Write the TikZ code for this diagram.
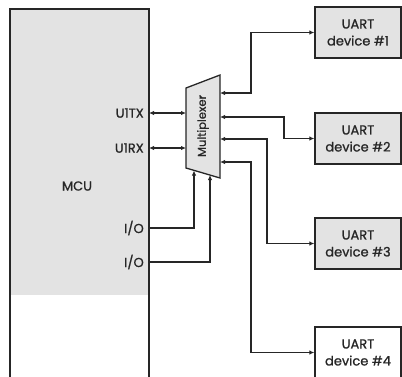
\documentclass[tikz,border=0pt]{standalone}
\usepackage{fontspec}
\setmainfont{Poppins}
\usetikzlibrary{arrows.meta}
\begin{document}
\begin{tikzpicture}[x=1pt,y=-1pt,
  wire/.style={line width=1.2pt, draw=black!85},
  dbl/.style={wire,{Latex[length=5pt,width=4.5pt]}-{Latex[length=5pt,width=4.5pt]}},
  one/.style={wire,-{Latex[length=5pt,width=4.5pt]}},
  box/.style={draw=black!85, line width=1.3pt},
  txt/.style={font=\fontsize{13}{17}\selectfont\addfontfeature{FakeBold=1}, text=black!85},
  dev/.style={box, fill=#1, minimum width=86pt, minimum height=51pt, inner sep=0pt, align=center, txt},
  pin/.style={anchor=east, inner sep=0pt, txt}]
\useasboundingbox (0,0) rectangle (402,376);
\clip (0,0) rectangle (402,376);
% MCU
\fill[gray!22] (11,10) rectangle (149,295);
\draw[box] (10,380) -- (10,9) -- (149,9) -- (149,380);
\node[txt] (mcu) at (77,186) {MCU};
\node[pin] (u1tx) at (144,113) {U1TX};
\node[pin] (u1rx) at (144,148) {U1RX};
\node[pin] (io1) at (144,228) {I/O};
\node[pin] (io2) at (144,262) {I/O};
\coordinate (p1) at (149,113);
\coordinate (p2) at (149,148);
\coordinate (p3) at (149,228);
\coordinate (p4) at (149,262);
% Multiplexer
\draw[box, fill=gray!22] (186,88) -- (220,75) -- (220,178) -- (186,168) -- cycle;
\node[txt, rotate=90, font=\fontsize{11.5}{12}\selectfont\addfontfeature{FakeBold=1}] (mux) at (203,126) {Multiplexer};
\coordinate (mi1) at (186,113);
\coordinate (mi2) at (186,148);
\coordinate (ms1) at (194,170.5);
\coordinate (ms2) at (210,175);
\coordinate (mo1) at (220,93);
\coordinate (mo2) at (220,117);
\coordinate (mo3) at (220,139);
\coordinate (mo4) at (220,162);
% devices
\node[dev=gray!22] (d1) at (358,32.5) {UART\\device \#1};
\node[dev=gray!22] (d2) at (358,138.5) {UART\\device \#2};
\node[dev=gray!22] (d3) at (358,243.5) {UART\\device \#3};
\node[dev=white] (d4) at (358,352.5) {UART\\device \#4};
% connectors
\draw[dbl] (p1) -- (mi1);
\draw[dbl] (p2) -- (mi2);
\draw[one] (p3) -| (ms1);
\draw[one] (p4) -| (ms2);
\draw[dbl] (mo1) -- (251,93) |- (d1.west);
\draw[dbl] (mo2) -- (284,117) |- (d2.west);
\draw[dbl] (mo3) -- (267,139) |- (d3.west);
\draw[dbl] (mo4) -- (251,162) |- (d4.west);
\end{tikzpicture}
\end{document}
